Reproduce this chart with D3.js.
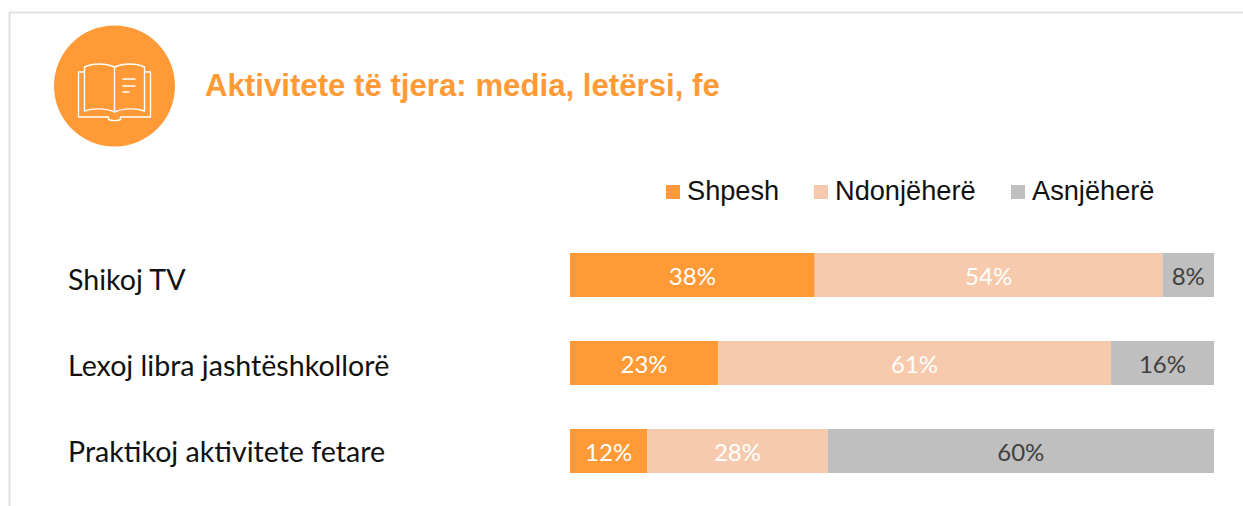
<!DOCTYPE html>
<html>
<head>
<meta charset="utf-8">
<script src="https://cdn.jsdelivr.net/npm/d3@7"></script>
<style>
html, body { margin: 0; padding: 0; background: #fff; overflow: hidden; }
svg { display: block; }
</style>
</head>
<body>
<svg></svg>
<script>
const categories = ['Shikoj TV', 'Lexoj libra jashtëshkollorë', 'Praktikoj aktivitete fetare'];
const seriesNames = ['Shpesh', 'Ndonjëherë', 'Asnjëherë'];
const shpesh = [38, 23, 12];
const ndonjehere = [54, 61, 28];
const asnjehere = [8, 16, 60];
const titleText = 'Aktivitete të tjera: media, letërsi, fe';

const colors = ['#ff9a36', '#f7caad', '#bfbfbf'];
const labelColors = ['#ffffff', '#ffffff', '#404040'];
const orange = '#ff9a36';

const iWidth = 1243, iHeight = 506;
const canvas = d3.select('svg').attr('width', iWidth).attr('height', iHeight);

// slide frame
canvas.append('path')
  .attr('d', `M9.5,${iHeight}V12.5H${iWidth}`)
  .attr('fill', 'none')
  .attr('stroke', '#e2e2e2')
  .attr('stroke-width', 2);

// icon
const icon = canvas.append('g').attr('transform', 'translate(114.5,86)');
icon.append('circle').attr('r', 60.5).attr('fill', orange);
const book = icon.append('g')
  .attr('fill', 'none')
  .attr('stroke', '#fff')
  .attr('stroke-width', 1.4)
  .attr('stroke-linejoin', 'round');
book.append('path').attr('d', 'M0,-19C-9,-23 -22,-23 -30,-19V25C-22,22 -9,22 0,26C9,22 22,22 30,25V-19C22,-23 9,-23 0,-19V26');
book.append('path').attr('d', 'M-30,-14H-36V31H-6V33.5C-3,35 3,35 6,33.5V31H36V-14H30');
book.append('path').attr('d', 'M8,-7H21M8,0H21M8,6H15');

canvas.append('text')
  .attr('x', 205)
  .attr('y', 96)
  .attr('font-family', '"Liberation Sans", Arial, sans-serif')
  .attr('font-weight', 'bold')
  .attr('font-size', 31.2)
  .attr('fill', orange)
  .text(titleText);

// legend
const legendX = [666, 814, 1011];
const legend = canvas.selectAll('g.legend')
  .data(seriesNames)
  .enter()
    .append('g')
    .attr('class', 'legend')
    .attr('transform', (d, i) => `translate(${legendX[i]},185)`);
legend.append('rect')
  .attr('width', 14)
  .attr('height', 14)
  .attr('fill', (d, i) => colors[i]);
legend.append('text')
  .attr('x', 21)
  .attr('y', 15)
  .attr('font-family', '"Liberation Sans", Arial, sans-serif')
  .attr('font-size', 27.2)
  .attr('fill', '#111')
  .text(d => d);

// bars
const rows = categories.map((name, i) => ({ name, values: [shpesh[i], ndonjehere[i], asnjehere[i]] }));
const stackData = rows.map(r => {
  const row = { name: r.name };
  seriesNames.forEach((s, j) => { row[s] = r.values[j]; });
  return row;
});
const stacked = d3.stack().keys(seriesNames)(stackData);

const xScale = d3.scaleLinear().domain([0, 100]).range([570, 1214]);
const yScale = d3.scaleBand()
  .domain(categories)
  .range([231, 495])
  .paddingInner(0.5)
  .paddingOuter(0.25);

const groups = canvas.selectAll('g.series')
  .data(stacked)
  .enter()
    .append('g')
    .attr('class', 'series');

groups.selectAll('rect')
  .data(d => d)
  .enter()
    .append('rect')
    .attr('x', d => xScale(d[0]))
    .attr('y', d => yScale(d.data.name))
    .attr('width', d => xScale(d[1]) - xScale(d[0]))
    .attr('height', yScale.bandwidth())
    .attr('fill', function() { return colors[d3.select(this.parentNode).datum().index]; });

groups.selectAll('text')
  .data(d => d)
  .enter()
    .append('text')
    .attr('x', d => (xScale(d[0]) + xScale(d[1])) / 2)
    .attr('y', d => yScale(d.data.name) + yScale.bandwidth() / 2 + 9.5)
    .attr('text-anchor', 'middle')
    .attr('font-family', 'Lato, sans-serif')
    .attr('font-size', 24)
    .attr('fill', function() { return labelColors[d3.select(this.parentNode).datum().index]; })
    .text(d => `${d[1] - d[0]}%`);

// category labels sit on a slightly tighter spacing than the bars
const labelScale = d3.scalePoint().domain(categories).range([280, 452]);
const yAxis = canvas.append('g')
  .attr('transform', 'translate(68,0)')
  .call(d3.axisLeft(labelScale).tickSize(0).tickPadding(0));
yAxis.select('.domain').remove();
yAxis.selectAll('text')
  .attr('text-anchor', 'start')
  .attr('font-family', 'Lato, sans-serif')
  .attr('font-size', 28.6)
  .attr('fill', '#111');
</script>
</body>
</html>
